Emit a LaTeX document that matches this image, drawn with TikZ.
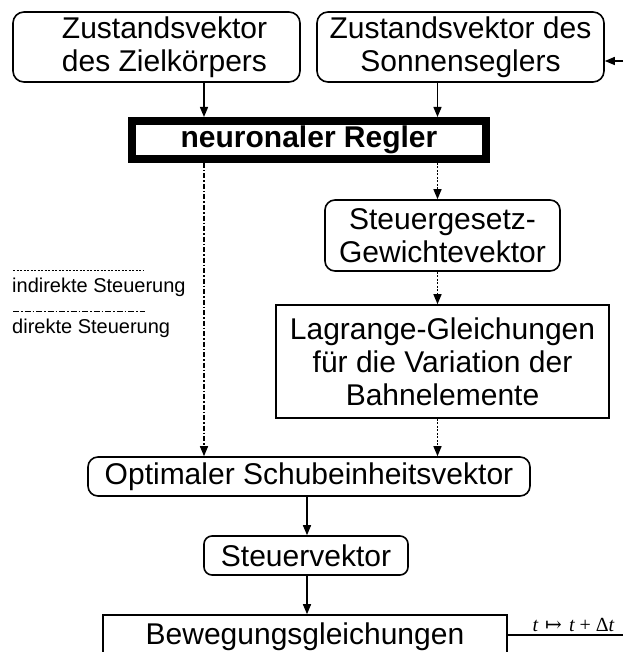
\documentclass[tikz,border=0pt]{standalone}
\usepackage{fontspec}
\setmainfont{Liberation Sans}
\newfontfamily\tmfont{Liberation Serif}
\newfontfamily\djfont{DejaVu Serif}
\usetikzlibrary{arrows.meta}
\begin{document}
\begin{tikzpicture}[x=1pt,y=-1pt,
  box/.style={draw, line width=1.6pt, inner sep=0pt, align=center, font=\fontsize{30}{33}\selectfont},
  rbox/.style={box, rounded corners=11pt},
  arr/.style={line width=1.4pt, -{Triangle[length=10pt,width=8pt]}},
  dotl/.style={dash pattern=on 2pt off 1.5pt},
  dashdotl/.style={dash pattern=on 5pt off 2pt on 1.5pt off 2pt},
  legtext/.style={anchor=west, inner sep=0pt, font=\fontsize{20}{22}\selectfont},
]
\useasboundingbox (0,0) rectangle (623,652);
\clip (0,0) rectangle (623,652);

\node[rbox, minimum width=287pt, minimum height=70pt] (zk) at (156.5,47) {\hspace*{16pt}Zustandsvektor\\\hspace*{16pt}des Zielkörpers};
\node[rbox, minimum width=287pt, minimum height=70pt] (zs) at (460.5,47) {Zustandsvektor des\\Sonnenseglers};
\node[draw, line width=8pt, inner sep=0pt, minimum width=354pt, minimum height=38pt, font=\bfseries\fontsize{30}{33}\selectfont] (nr) at (309,140) {neuronaler Regler};
\node[rbox, rounded corners=10pt, minimum width=235pt, minimum height=71pt] (sg) at (442.5,235.5) {Steuergesetz-\\Gewichtevektor};
\node[box, minimum width=333pt, minimum height=113pt] (lg) at (442.5,361.5) {Lagrange-Gleichungen\\für die Variation der\\Bahnelemente};
\node[rbox, rounded corners=10pt, minimum width=442pt, minimum height=39pt] (os) at (309,476.5) {Optimaler Schubeinheitsvektor};
\node[rbox, rounded corners=8pt, minimum width=204pt, minimum height=39pt] (sv) at (306,555.5) {Steuervektor};
\node[box, minimum width=404pt, minimum height=44pt] (bg) at (305,637) {Bewegungsgleichungen};

\coordinate (xl) at (204,0);
\coordinate (xr) at (437.5,0);
\coordinate (xm) at (307,0);
\draw[arr] (xl |- zk.south) -- (xl |- nr.north);
\draw[arr] (xr |- zs.south) -- (xr |- nr.north);
\draw[arr, dashdotl] (xl |- nr.south) -- (xl |- os.north);
\draw[arr, dotl] (xr |- nr.south) -- (xr |- sg.north);
\draw[arr, dotl] (xr |- sg.south) -- (xr |- lg.north);
\draw[arr, dotl] (xr |- lg.south) -- (xr |- os.north);
\draw[arr] (xm |- os.south) -- (xm |- sv.north);
\draw[arr] (xm |- sv.south) -- (xm |- bg.north);
\coordinate (fb) at (623,61);
\draw[arr] (fb) -- (fb -| zs.east);
\coordinate (out) at (623,635);
\draw[line width=1.4pt] (bg.east |- out) -- (out) node[pos=0.57, above=2pt, inner sep=1pt, font=\fontsize{20}{22}\selectfont] (dt) {{\tmfont\itshape t}\hspace{0.35em}{\djfont ↦}\hspace{0.35em}{\tmfont\itshape t}\hspace{0.25em}{\tmfont +}\hspace{0.25em}{\tmfont Δ\itshape t}};

\draw[line width=1pt, dotl] (13,270) -- (144,270);
\node[legtext] (li) at (12,287) {indirekte Steuerung};
\draw[line width=1pt, dash pattern=on 6pt off 2pt on 1.5pt off 2pt] (13,311) -- (145,311);
\node[legtext] (ld) at (12,328) {direkte Steuerung};
\end{tikzpicture}
\end{document}
